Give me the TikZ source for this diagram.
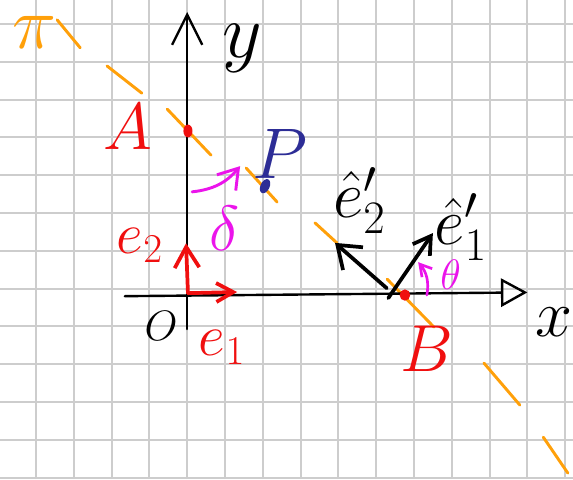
\RequirePackage{fix-cm}
\documentclass[tikz,border=0pt]{standalone}
\usepackage{amsmath,amssymb}
\usepackage{xcolor}
\usepackage{tikz}
\usetikzlibrary{arrows.meta,shapes.geometric}
\definecolor{cLine}{RGB}{255,160,10}
\definecolor{cPt}{RGB}{240,15,15}
\definecolor{cRot}{RGB}{235,20,235}
\definecolor{cP}{RGB}{45,45,150}
\definecolor{cGrid}{RGB}{205,205,205}

\begin{document}
\begin{tikzpicture}[
  gridline/.style={draw=cGrid, line width=1.4pt},
  axis/.style={line width=1.8pt, line cap=round},
  vec/.style={line width=2.8pt, line cap=round},
  lineseg/.style={draw=cLine, line width=2.2pt, line cap=round},
  spot/.style={ellipse, inner sep=0pt, minimum width=0.24cm, minimum height=0.34cm},
  lab/.style={inner sep=0pt, font=\fontsize{#1}{#1}\selectfont}
]
  \fill[white] (-4.952, -5.037) rectangle (10.206, 7.635);
  \useasboundingbox (-4.952, -5.037) rectangle (10.206, 7.635);
  \draw[gridline] (-4.952, -5.037) grid (10.206, 7.635);

  \draw[lineseg] (-3.44, 7.11) -- (-2.83, 6.37)
                 (-2.12, 5.89) -- (-1.20, 5.17)
                 (-0.53, 4.75) -- (0.63, 3.53)
                 (1.56, 3.19) -- (2.38, 2.29)
                 (3.38, 1.74) -- (3.96, 1.21)
                 (5.29, 0.25) -- (6.53, -1.02)
                 (7.85, -1.97) -- (8.80, -3.08)
                 (9.42, -3.93) -- (10.07, -4.88);
  \node[lab=56, text=cLine] (pi) at (-4.05, 6.78) {$\pi$};

  \coordinate (O) at (0.02, -0.12);
  \coordinate (ybot) at (0, -1.07);
  \coordinate (ytop) at (0, 7.32);
  \coordinate (xl) at (-1.65, -0.2);
  \coordinate (xr) at (9.0, -0.1);
  \draw[axis, -{Straight Barb[length=8mm, width=8mm]}] (ybot) -- (ytop);
  \draw[axis, -{Triangle[open, length=7mm, width=7.5mm]}] (xl) -- (xr);
  \node[lab=58] (ylab) at (1.45, 6.36) {$y$};
  \node[lab=50] (xlab) at (9.71, -0.88) {$x$};
  \node[lab=32] (olab) at (-0.69, -0.99) {$O$};

  \coordinate (e2) at (-0.03, 1.2);
  \coordinate (e1) at (1.32, -0.09);
  \draw[vec, cPt, -{Straight Barb[length=5.5mm, width=6.5mm]}] (O) -- (e2);
  \draw[vec, cPt, -{Straight Barb[length=4.5mm, width=5mm]}] (O) -- (e1);
  \node[lab=44, text=cPt] (e2lab) at (-1.25, 1.15) {$e_2$};
  \node[lab=44, text=cPt] (e1lab) at (0.92, -1.55) {$e_1$};

  \node[spot, fill=cPt] (A) at (0.02, 4.17) {};
  \node[lab=50, text=cPt] (Alab) at (-1.57, 4.27) {$A$};
  \node[spot, fill=cPt, minimum height=0.3cm, minimum width=0.28cm] (B) at (5.76, -0.17) {};
  \node[lab=50, text=cPt] (Blab) at (6.34, -1.60) {$B$};

  \node[spot, fill=cP, minimum height=0.4cm, rotate=-25] (P) at (2.06, 2.71) {};
  \node[lab=54, text=cP] (Plab) at (2.45, 3.56) {$P$};

  \coordinate (rs) at (0.13, 2.56);
  \coordinate (re) at (1.40, 3.24);
  \draw[vec, cRot, line width=2.2pt, -{Straight Barb[length=5mm, width=6.5mm]}] (rs) to[bend right=22] (re);
  \node[lab=48, text=cRot] (dlab) at (1.00, 1.60) {$\delta$};

  \coordinate (Q2) at (5.28, 0.01);
  \coordinate (Q1) at (5.32, -0.25);
  \coordinate (f2) at (3.91, 1.21);
  \coordinate (f1) at (6.50, 1.47);
  \draw[vec, -{Straight Barb[length=5.5mm, width=8mm]}] (Q2) -- (f2);
  \draw[vec, -{Straight Barb[length=4.5mm, width=5.5mm]}] (Q1) -- (f1);
  \node[lab=50] (f2lab) at (4.55, 2.33) {$\hat{e}'_2$};
  \node[lab=50] (f1lab) at (7.24, 1.62) {$\hat{e}'_1$};

  \coordinate (ts) at (6.34, -0.17);
  \coordinate (te) at (6.11, 0.70);
  \draw[vec, cRot, line width=2pt, -{Straight Barb[length=3mm, width=3.5mm]}] (ts) to[bend right=25] (te);
  \node[lab=32, text=cRot] (tlab) at (6.97, 0.36) {$\theta$};
\end{tikzpicture}
\end{document}
